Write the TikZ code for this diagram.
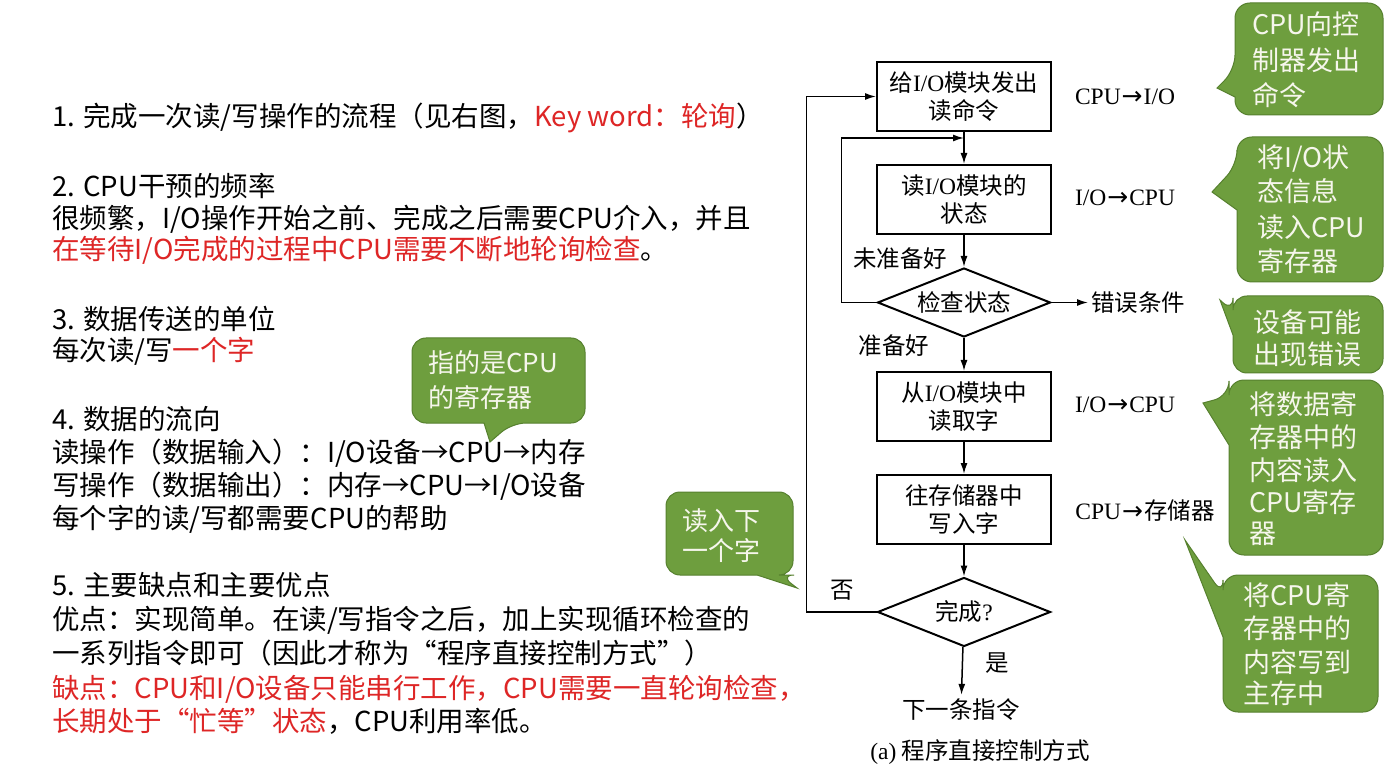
\documentclass[tikz,border=0pt]{standalone}
\usepackage{fontspec}
\newfontfamily\cjk{Noto Sans CJK SC}
\newfontfamily\lser{Liberation Serif}
\newfontfamily\dvs{DejaVu Sans}
\usetikzlibrary{shapes.geometric,arrows.meta}
\definecolor{cgreen}{RGB}{110,158,62}
\definecolor{cborder}{RGB}{86,128,46}
\definecolor{cred}{RGB}{222,38,38}
\definecolor{ctxt}{RGB}{246,246,236}
\newcommand\myfc{\cjk\fontsize{23.5}{27.5}\selectfont}
\newcommand\myar{\kern1pt{\dvs\fontsize{25}{25}\selectfont →}\kern1pt}
\begin{document}
\begin{tikzpicture}[x=1pt,y=-1pt,
  lt/.style={anchor=base west, inner sep=0, font=\cjk\fontsize{27.5}{27.5}\selectfont},
  ct/.style={anchor=base west, inner sep=0, text=ctxt, font=\cjk\fontsize{27}{27}\selectfont},
  cts/.style={anchor=base west, inner sep=0, text=ctxt, font=\cjk\fontsize{26}{26}\selectfont},
  call/.style={fill=cgreen, draw=cborder, line width=1pt},
  box/.style={draw, line width=2pt, minimum width=174pt, minimum height=69pt, inner sep=0, align=center, font=\myfc},
  dia/.style={diamond, draw, line width=2pt, minimum width=173pt, minimum height=69pt, aspect=2.5, inner sep=0, font=\myfc},
  fl/.style={inner sep=0, font=\myfc},
  rl/.style={inner sep=0, font=\lser\fontsize{23.5}{27}\selectfont},
  arr/.style={line width=1.5pt, -{Latex[length=11pt,width=7pt]}},
]
\path[fill=white] (0,0) rectangle (1390,767);
\useasboundingbox (0,0) rectangle (1390,767);

% ---------------- left text ----------------
\node[lt] (t1) at (52,127) {1. 完成一次读/写操作的流程（见右图，\textcolor{cred}{Key word：轮询}）};
\node[lt] (t2) at (52,197) {2. CPU干预的频率};
\node[lt] (t3) at (52,229) {很频繁，I/O操作开始之前、完成之后需要CPU介入，并且};
\node[lt] (t4) at (52,260) {\textcolor{cred}{在等待I/O完成的过程中CPU需要不断地轮询检查}。};
\node[lt] (t5) at (52,330) {3. 数据传送的单位};
\node[lt] (t6) at (52,361) {每次读/写\textcolor{cred}{一个字}};
\node[lt] (t7) at (52,429) {4. 数据的流向};
\node[lt] (t8) at (52,462) {读操作（数据输入）：I/O设备→CPU→内存};
\node[lt] (t9) at (52,495) {写操作（数据输出）：内存→CPU→I/O设备};
\node[lt] (t10) at (52,528) {每个字的读/写都需要CPU的帮助};
\node[lt] (t11) at (52,595) {5. 主要缺点和主要优点};
\node[lt] (t12) at (52,629) {优点：实现简单。在读/写指令之后，加上实现循环检查的};
\node[lt] (t13) at (52,663) {一系列指令即可（因此才称为“程序直接控制方式”）};
\node[lt] (t14) at (52,698) {\textcolor{cred}{缺点：CPU和I/O设备只能串行工作，CPU需要一直轮询检查，}};
\node[lt] (t15) at (52,731) {\textcolor{cred}{长期处于“忙等”状态}，CPU利用率低。};

% ---------------- flowchart ----------------
\node[box] (b1) at (964,96.5) {给{\lser I/O}模块发出\\读命令};
\node[box] (b2) at (964,199.5) {读{\lser I/O}模块的\\状态};
\node[dia] (d1) at (964,302.5) {检查状态};
\node[box] (b3) at (964,406.5) {从{\lser I/O}模块中\\读取字};
\node[box] (b4) at (964,509.5) {往存储器中\\写入字};
\node[dia] (d2) at (964,612) {完成{\lser ?}};
\node[fl, inner sep=4pt] (nx) at (961,710) {下一条指令};
\node[fl, inner sep=3pt, anchor=west] (err) at (1088,302.5) {错误条件};
\coordinate (j) at (964,138);

\draw[arr] (b1) -- (b2);
\draw[arr] (b2) -- (d1);
\draw[arr] (d1) -- (b3);
\draw[arr] (b3) -- (b4);
\draw[arr] (b4) -- (d2);
\draw[arr] (d2) -- (nx);
\draw[arr] (d1) -- (err);
\draw[arr] (d1.west) -- ++(-35,0) |- (j);
\draw[arr] (d2.west) -- ++(-70,0) |- (b1.west);

\node[fl] (l1) at (900,259) {未准备好};
\node[fl] (l2) at (894,346) {准备好};
\node[fl] (l3) at (842,590) {否};
\node[fl] (l4) at (997,663) {是};
\node[fl] (cap) at (980,752) {{\lser (a)} 程序直接控制方式};

\node[rl] (r1) at (1125,97) {CPU\myar I/O};
\node[rl] (r2) at (1125,198) {I/O\myar CPU};
\node[rl] (r3) at (1125,405) {I/O\myar CPU};
\node[rl] (r4) at (1145,511) {CPU\myar{\myfc 存储器}};

% ---------------- callouts ----------------
% C1
\draw[call] (1235,70) [sharp corners] -- (1217,88) -- (1235,97) [rounded corners=15pt] -- (1235,115) -- (1383,115) -- (1383,3) -- (1235,3) -- cycle;
\node[ct] (c1a) at (1252,35) {CPU向控};
\node[ct] (c1b) at (1252,71) {制器发出};
\node[ct] (c1c) at (1252,106) {命令};
% C2
\draw[call] (1237,165) [sharp corners] -- (1212,192) -- (1237,210) [rounded corners=15pt] -- (1237,282) -- (1383,282) -- (1383,137) -- (1237,137) -- cycle;
\node[ct] (c2a) at (1257,168) {将I/O状};
\node[ct] (c2b) at (1257,202) {态信息};
\node[ct] (c2c) at (1257,238) {读入CPU};
\node[ct] (c2d) at (1257,272) {寄存器};
% C3
\draw[call] (1233,312) [sharp corners] -- (1220,300) -- (1233,335) [rounded corners=14pt] -- (1233,373) -- (1383,373) -- (1383,296) -- (1233,296) -- cycle;
\node[ct] (c3a) at (1253,333) {设备可能};
\node[ct] (c3b) at (1253,365) {出现错误};
% C4
\draw[call] (1229,396) [sharp corners] -- (1203,403) -- (1229,445) [rounded corners=15pt] -- (1229,555) -- (1383,555) -- (1383,380) -- (1229,380) -- cycle;
\node[ct] (c4a) at (1249,414) {将数据寄};
\node[ct] (c4b) at (1249,447) {存器中的};
\node[ct] (c4c) at (1249,480) {内容读入};
\node[ct] (c4d) at (1249,512) {CPU寄存};
\node[ct] (c4e) at (1249,543) {器};
% C5
\draw[call] (1223,595) [sharp corners] -- (1185,540) -- (1223,637) [rounded corners=15pt] -- (1223,712) -- (1378,712) -- (1378,575) -- (1223,575) -- cycle;
\node[ct] (c5a) at (1243,605) {将CPU寄};
\node[ct] (c5b) at (1243,638) {存器中的};
\node[ct] (c5c) at (1243,672) {内容写到};
\node[ct] (c5d) at (1243,703) {主存中};
% C6
\draw[call] (512,423) [sharp corners] -- (490,442) -- (484,423) [rounded corners=14pt] -- (412,423) -- (412,338) -- (585,338) -- (585,423) -- cycle;
\node[cts] (c6a) at (428,373) {指的是CPU};
\node[cts] (c6b) at (428,407) {的寄存器};
% C7
\draw[call] (780,575) [sharp corners] -- (797,588) -- (757,575) [rounded corners=14pt] -- (666,575) -- (666,492) -- (793,492) -- (793,575) -- cycle;
\node[cts] (c7a) at (682,530) {读入下};
\node[cts] (c7b) at (682,560) {一个字};
\end{tikzpicture}
\end{document}
